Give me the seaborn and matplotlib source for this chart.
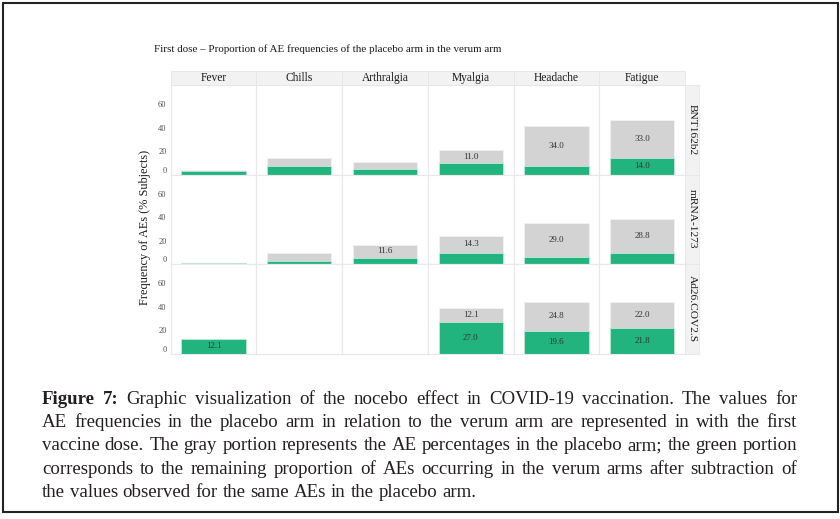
import pandas as pd
import matplotlib.pyplot as plt
import seaborn as sns
from matplotlib.patches import Rectangle

# --- data ---
vaccines = ['BNT162b2', 'mRNA-1273', 'Ad26.COV2.S']
events = ['Fever', 'Chills', 'Arthralgia', 'Myalgia', 'Headache', 'Fatigue']

# green part: verum minus placebo (%), one list per vaccine in `events` order
verum_excess = {
    'BNT162b2':    [2.8, 7.7, 5.1, 9.9, 7.7, 14.0],
    'mRNA-1273':   [0.8, 2.6, 5.1, 9.7, 6.0, 9.7],
    'Ad26.COV2.S': [12.1, 0.0, 0.0, 27.0, 19.6, 21.8],
}
# gray part: placebo arm (%)
placebo = {
    'BNT162b2':    [1.2, 6.6, 6.0, 11.0, 34.0, 33.0],
    'mRNA-1273':   [0.3, 6.5, 11.6, 14.3, 29.0, 28.8],
    'Ad26.COV2.S': [0.0, 0.0, 0.0, 12.1, 24.8, 22.0],
}
yticks = [0, 20, 40, 60]

title = 'First dose \u2013 Proportion of AE frequencies of the placebo arm in the verum arm'
ylabel = 'Frequency of AEs (% Subjects)'
caption = [
    'Figure 7: Graphic visualization of the nocebo effect in COVID-19 vaccination. The values for',
    'AE frequencies in the placebo arm in relation to the verum arm are represented in with the first',
    'vaccine dose. The gray portion represents the AE percentages in the placebo arm; the green portion',
    'corresponds to the remaining proportion of AEs occurring in the verum arms after subtraction of',
    'the values observed for the same AEs in the placebo arm.',
]

# long table
rows = []
for v in vaccines:
    for i, ev in enumerate(events):
        rows.append({'vaccine': v, 'event': ev,
                     'excess': verum_excess[v][i], 'placebo': placebo[v][i]})
df = pd.DataFrame(rows)
df['total'] = df['excess'] + df['placebo']

GREEN = '#22b47f'
GRAY = '#d3d3d3'
LINE = '#e8e8e8'

sns.set_style('white')
plt.rcParams['font.family'] = ['Liberation Serif', 'DejaVu Serif']

W, H = 840, 519
fig = plt.figure(figsize=(W / 100, H / 100), dpi=100)

# panel geometry in pixels
x0, x1 = 170.7, 685.0
y0, y1 = 85.0, 353.5
cw = (x1 - x0) / len(events)
rh = (y1 - y0) / len(vaccines)


def frac(x, y, w, h):
    return [x / W, 1 - (y + h) / H, w / W, h / H]


for r, v in enumerate(vaccines):
    for c, ev in enumerate(events):
        ax = fig.add_axes(frac(x0 + c * cw, y0 + r * rh, cw, rh))
        sub = df[(df.vaccine == v) & (df.event == ev)]
        sns.barplot(data=sub, x='event', y='total', color=GRAY, width=0.9,
                    saturation=1, errorbar=None, edgecolor='#f2f2f2',
                    linewidth=0.6, ax=ax)
        sns.barplot(data=sub, x='event', y='excess', color=GREEN, width=0.9,
                    saturation=1, errorbar=None, edgecolor='#bfe9d8',
                    linewidth=0.6, ax=ax)
        ax.set_xlim(-0.6, 0.6)
        ax.set_ylim(0, 76.7)
        ax.set_xlabel('')
        ax.set_ylabel('')
        ax.set_xticks([])
        for s in ax.spines.values():
            s.set_color(LINE)
            s.set_linewidth(0.8)
        if c == 0:
            ax.set_yticks(yticks)
            labels = ax.set_yticklabels([str(t) for t in yticks], fontsize=6,
                                        color='#4d4d4d')
            labels[0].set_va('bottom')  # zero label sits just above the floor
            ax.tick_params(axis='y', length=0, pad=3)
        else:
            ax.set_yticks([])
        # value labels inside the segments
        for _, row in sub.iterrows():
            if row.excess >= 10:
                ax.text(0, row.excess / 2, f'{row.excess:.1f}', ha='center',
                        va='center', fontsize=6.5, color='#333333')
            if row.placebo >= 10:
                ax.text(0, row.excess + row.placebo / 2, f'{row.placebo:.1f}',
                        ha='center', va='center', fontsize=6.5, color='#333333')

# top strips
for c, ev in enumerate(events):
    sax = fig.add_axes(frac(x0 + c * cw, 71, cw, y0 - 71))
    sax.set_facecolor('#f2f2f2')
    sax.set_xticks([])
    sax.set_yticks([])
    for s in sax.spines.values():
        s.set_color('#e6e6e6')
        s.set_linewidth(0.6)
    sax.text(0.5, 0.5, ev, ha='center', va='center', fontsize=8.3,
             color='#1a1a1a', transform=sax.transAxes)

# right strips
for r, v in enumerate(vaccines):
    sax = fig.add_axes(frac(x1, y0 + r * rh, 14, rh))
    sax.set_facecolor('#f2f2f2')
    sax.set_xticks([])
    sax.set_yticks([])
    for s in sax.spines.values():
        s.set_color('#e6e6e6')
        s.set_linewidth(0.6)
    sax.text(0.5, 0.5, v, ha='center', va='center', rotation=-90,
             fontsize=8.2, color='#1a1a1a', transform=sax.transAxes)

fig.text(154 / W, 1 - 49 / H, title, ha='left', va='center', fontsize=7.9,
         color='#1a1a1a')
fig.text(145 / W, 1 - 227 / H, ylabel, rotation=90, ha='center',
         va='center', fontsize=8.8, color='#1a1a1a')

# justified caption, word by word
renderer = fig.canvas.get_renderer()
left, right = 42, 797
baselines = [404, 427, 450, 474, 497]
for li, (line, yb) in enumerate(zip(caption, baselines)):
    words = line.split(' ')
    texts = []
    for wi, word in enumerate(words):
        bold = li == 0 and wi < 2
        t = fig.text(0, 1 - yb / H, word, ha='left', va='baseline', fontsize=13.6,
                     color='#231f20', fontweight='bold' if bold else 'normal')
        texts.append(t)
    widths = [t.get_window_extent(renderer=renderer).width for t in texts]
    if li < len(caption) - 1:
        gap = (right - left - sum(widths)) / (len(words) - 1)
    else:
        gap = 4.8
    x = left
    for t, wd in zip(texts, widths):
        t.set_x(x / W)
        x += wd + gap

fig.add_artist(Rectangle((2.5 / W, 1 - 512 / H), 835 / W, 509 / H,
                         transform=fig.transFigure, fill=False,
                         edgecolor='#222222', linewidth=1.5))

fig.savefig('out.png', dpi=100)
